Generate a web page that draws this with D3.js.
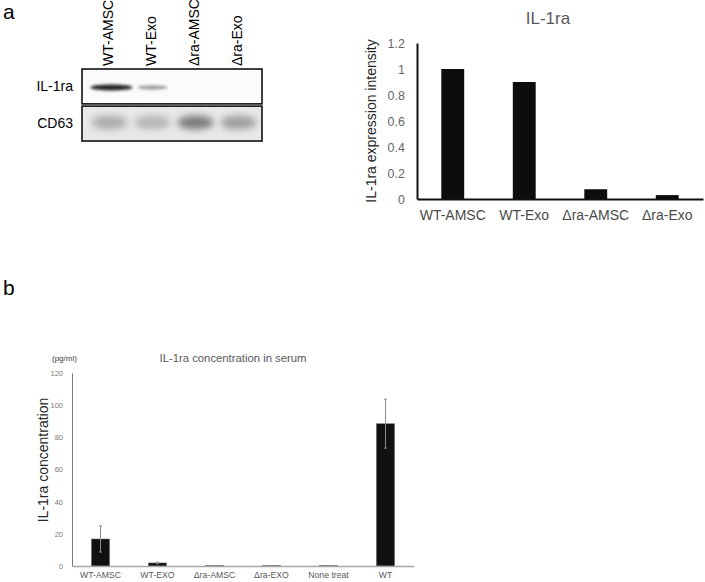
<!DOCTYPE html>
<html>
<head>
<meta charset="utf-8">
<script src="https://cdn.jsdelivr.net/npm/d3@7"></script>
<style>
  body { margin: 0; background: #fff; }
  text { font-family: "Liberation Sans", Arial, sans-serif; }
</style>
</head>
<body>
<div id="chart"></div>
<script>
// ---- data ----
var lanes = ["WT-AMSC", "WT-Exo", "\u0394ra-AMSC", "\u0394ra-Exo"];
var blotRows = ["IL-1ra", "CD63"];
var il1raBand = [0.95, 0.45, 0.0, 0.0];   // blot band darkness
var cd63Band = [0.34, 0.3, 0.55, 0.4];

var intensity = [1.0, 0.9, 0.075, 0.03];
var intensityTicks = [0, 0.2, 0.4, 0.6, 0.8, 1, 1.2];

var serumGroups = ["WT-AMSC", "WT-EXO", "\u0394ra-AMSC", "\u0394ra-EXO", "None treat", "WT"];
var serumMean = [16.8, 1.9, 0.3, 0.3, 0.3, 88.5];
var serumErr = [8.1, 0.5, 0, 0, 0, 15.2];
var serumTicks = [0, 20, 40, 60, 80, 100, 120];

var svg = d3.select("#chart").append("svg")
    .attr("width", 705)
    .attr("height", 582);

var defs = svg.append("defs");
defs.append("filter").attr("id", "blur1")
    .attr("x", "-50%").attr("y", "-100%").attr("width", "200%").attr("height", "300%")
    .append("feGaussianBlur").attr("stdDeviation", 1.6);
defs.append("filter").attr("id", "blur2")
    .attr("x", "-50%").attr("y", "-100%").attr("width", "200%").attr("height", "300%")
    .append("feGaussianBlur").attr("stdDeviation", 3.5);

// panel letters
svg.append("text").attr("x", 3).attr("y", 19).style("font-size", "21px").text("a");
svg.append("text").attr("x", 3).attr("y", 295).style("font-size", "21px").text("b");

// ---- western blot ----
var lane = d3.scaleBand().domain(lanes).range([86, 258]);
var rowY = d3.scaleBand().domain(blotRows).range([69, 141]).paddingInner(0.06);

var blot = svg.append("g");

blot.selectAll(".lane-label")
    .data(lanes)
    .enter().append("text")
    .attr("transform", function(d) {
        return "translate(" + (lane(d) + lane.bandwidth() / 2 + 5) + ",66) rotate(-90)";
    })
    .style("font-size", "14px")
    .text(function(d) { return d; });

blot.selectAll(".row-label")
    .data(blotRows)
    .enter().append("text")
    .attr("x", 73)
    .attr("y", function(d) { return rowY(d) + rowY.bandwidth() / 2; })
    .attr("dy", "0.35em")
    .attr("text-anchor", "end")
    .style("font-size", "14px")
    .text(function(d) { return d; });

blot.selectAll(".row-bg")
    .data(blotRows)
    .enter().append("rect")
    .attr("x", 82).attr("width", 180)
    .attr("y", function(d) { return rowY(d); })
    .attr("height", rowY.bandwidth())
    .attr("fill", function(d, i) { return i === 0 ? "#fbfbfb" : "#e8e8e8"; });

var shade = d3.scaleLinear().domain([0, 1]).range(["#fbfbfb", "#151515"]);

blot.selectAll(".il-band")
    .data(il1raBand)
    .enter().append("ellipse")
    .attr("cx", function(d, i) { return lane(lanes[i]) + lane.bandwidth() / 2 + (i === 0 ? 4 : 2); })
    .attr("cy", rowY("IL-1ra") + rowY.bandwidth() / 2 + 1)
    .attr("rx", function(d, i) { return i === 0 ? 21 : 15; })
    .attr("ry", function(d, i) { return i === 0 ? 3 : 2; })
    .attr("fill", function(d) { return shade(d); })
    .attr("filter", "url(#blur1)");

blot.selectAll(".cd-band")
    .data(cd63Band)
    .enter().append("ellipse")
    .attr("cx", function(d, i) { return lane(lanes[i]) + lane.bandwidth() / 2 + 2; })
    .attr("cy", rowY("CD63") + rowY.bandwidth() / 2 - 1)
    .attr("rx", 18)
    .attr("ry", 7)
    .attr("fill", function(d) { return shade(d); })
    .attr("filter", "url(#blur2)");

blot.selectAll(".row-box")
    .data(blotRows)
    .enter().append("rect")
    .attr("x", 82).attr("width", 180)
    .attr("y", function(d) { return rowY(d); })
    .attr("height", rowY.bandwidth())
    .attr("fill", "none")
    .attr("stroke", "#111")
    .attr("stroke-width", 1.6);

// ---- panel a chart ----
var xa = d3.scaleBand().domain(lanes).range([417, 703]).paddingInner(0.68).paddingOuter(0.34);
var ya = d3.scaleLinear().domain([0, 1.2]).range([199, 43]);

var ga = svg.append("g");

ga.append("text")
    .attr("x", 548).attr("y", 24)
    .attr("text-anchor", "middle")
    .attr("fill", "#595959")
    .style("font-size", "17px")
    .text("IL-1ra");

ga.selectAll(".bar")
    .data(intensity)
    .enter().append("rect")
    .attr("x", function(d, i) { return xa(lanes[i]); })
    .attr("width", xa.bandwidth())
    .attr("y", function(d) { return ya(d); })
    .attr("height", function(d) { return ya(0) - ya(d); })
    .attr("fill", "#0d0d0d");

var yAxisA = ga.append("g")
    .attr("transform", "translate(417,0)")
    .call(d3.axisLeft(ya).tickValues(intensityTicks).tickSize(0).tickPadding(12)
        .tickFormat(function(d) { return String(+d.toFixed(1)); }));
yAxisA.select(".domain").attr("stroke", "#111").attr("stroke-width", 2);
yAxisA.selectAll("text").attr("fill", "#666").style("font-size", "12.5px")
    .style("font-family", "'Liberation Sans', Arial, sans-serif");

var xAxisA = ga.append("g")
    .attr("transform", "translate(0,199)")
    .call(d3.axisBottom(xa).tickSize(0).tickPadding(11));
xAxisA.select(".domain").attr("stroke", "#111").attr("stroke-width", 2);
xAxisA.selectAll("text").attr("fill", "#4a4a4a").style("font-size", "14px")
    .style("font-family", "'Liberation Sans', Arial, sans-serif");

ga.append("text")
    .attr("transform", "translate(376,121) rotate(-90)")
    .attr("text-anchor", "middle")
    .attr("fill", "#262626")
    .style("font-size", "14px")
    .text("IL-1ra expression intensity");

// ---- panel b chart ----
var xb = d3.scaleBand().domain(serumGroups).range([72, 414]).paddingInner(0.68).paddingOuter(0.34);
var yb = d3.scaleLinear().domain([0, 120]).range([566, 373]);

var gb = svg.append("g");

gb.append("text")
    .attr("x", 233).attr("y", 358)
    .attr("dy", "0.35em")
    .attr("text-anchor", "middle")
    .attr("fill", "#595959")
    .style("font-size", "11.3px")
    .text("IL-1ra concentration in serum");

gb.append("text")
    .attr("x", 52).attr("y", 358)
    .attr("dy", "0.35em")
    .attr("fill", "#404040")
    .style("font-size", "8px")
    .text("(pg/ml)");

gb.selectAll(".bar")
    .data(serumMean)
    .enter().append("rect")
    .attr("x", function(d, i) { return xb(serumGroups[i]); })
    .attr("width", xb.bandwidth())
    .attr("y", function(d) { return yb(d); })
    .attr("height", function(d) { return yb(0) - yb(d); })
    .attr("fill", "#111")
    .attr("stroke", "#777")
    .attr("stroke-width", 0.5);

var errs = gb.selectAll(".err")
    .data(serumMean)
    .enter().append("g")
    .attr("stroke", "#8c8c8c")
    .attr("stroke-width", 1)
    .attr("transform", function(d, i) { return "translate(" + (xb(serumGroups[i]) + xb.bandwidth() / 2) + ",0)"; });
errs.append("line")
    .attr("y1", function(d, i) { return yb(d + serumErr[i]); })
    .attr("y2", function(d, i) { return yb(d - serumErr[i]); });
errs.append("line").attr("x1", -1.5).attr("x2", 1.5)
    .attr("y1", function(d, i) { return yb(d + serumErr[i]); })
    .attr("y2", function(d, i) { return yb(d + serumErr[i]); });
errs.append("line").attr("x1", -1.5).attr("x2", 1.5)
    .attr("y1", function(d, i) { return yb(d - serumErr[i]); })
    .attr("y2", function(d, i) { return yb(d - serumErr[i]); });

var yAxisB = gb.append("g")
    .attr("transform", "translate(72,0)")
    .call(d3.axisLeft(yb).tickValues(serumTicks).tickSize(0).tickPadding(9));
yAxisB.select(".domain").attr("stroke", "#7a7a7a").attr("stroke-width", 1);
yAxisB.selectAll("text").attr("fill", "#7a7a7a").style("font-size", "7.5px")
    .style("font-family", "'Liberation Sans', Arial, sans-serif");

var xAxisB = gb.append("g")
    .attr("transform", "translate(0,566)")
    .call(d3.axisBottom(xb).tickSize(0).tickPadding(6));
xAxisB.select(".domain").attr("stroke", "#a6a6a6").attr("stroke-width", 1.5);
xAxisB.selectAll("text").attr("fill", "#595959").style("font-size", "8.7px")
    .style("font-family", "'Liberation Sans', Arial, sans-serif");

gb.append("text")
    .attr("transform", "translate(48,460) rotate(-90)")
    .attr("text-anchor", "middle")
    .attr("fill", "#262626")
    .style("font-size", "14px")
    .text("IL-1ra concentration");
</script>
</body>
</html>
